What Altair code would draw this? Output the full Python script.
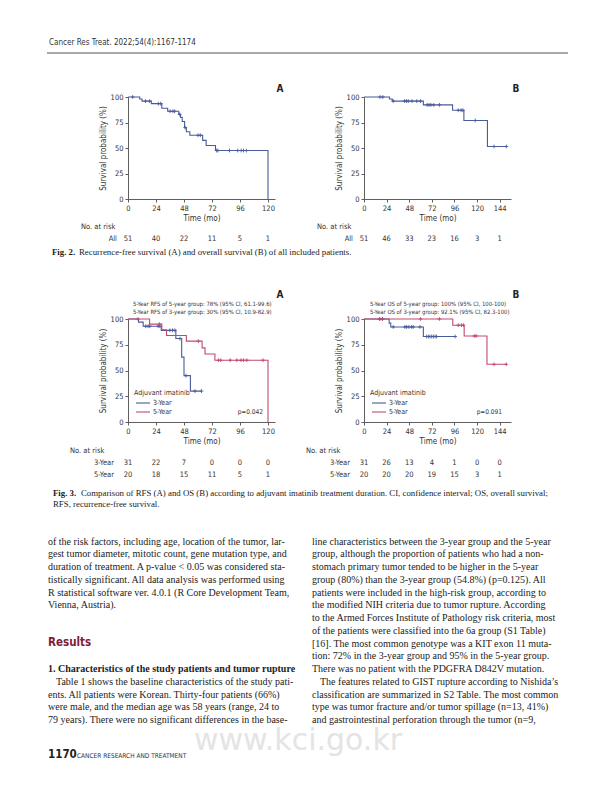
import altair as alt
import pandas as pd

# ------------------------------------------------------------------ data
GROUPS = ["All", "3-Year", "5-Year"]
COLORS = ["#4a5b9b", "#4a5b9b", "#c24a6c"]

# Fig 2A  recurrence-free survival, all patients
f2a_t = [0, 10, 12, 20, 29, 34, 43.5, 45, 46.5, 48.5, 50, 53, 64, 67, 75, 120]
f2a_s = [100, 98, 96, 93.5, 89, 86, 83, 80, 76, 70, 66, 62.5, 57.5, 52.5, 47.5, 0]
f2a_c = [4, 15, 18.5, 26, 28, 36, 38.5, 40, 44.3, 49, 60, 62, 76, 77, 87, 94, 97, 99, 101.5]

# Fig 2B  overall survival, all patients
f2b_t = [0, 27, 30, 63, 94, 106, 131, 151]
f2b_s = [100, 98, 96, 92.3, 87, 77, 51.5, 51.5]
f2b_c = [17, 20, 31, 43, 45, 47, 51, 56, 60, 67, 69, 71, 74, 80, 100, 103, 105, 118, 138, 151]

# Fig 3A  RFS by duration
f3a_3_t = [0, 9, 13, 28.5, 41, 46, 48, 53.5, 63]
f3a_3_s = [100, 97, 93, 89, 81, 63, 45, 30, 30]
f3a_3_c = [15.2, 17.2, 18.7, 25.8, 27.3, 35.9, 38.2, 40.2, 44.5, 49.7, 57.4, 63]
f3a_5_t = [0, 18.5, 29, 33, 50, 63.5, 66, 74.5, 120]
f3a_5_s = [100, 95, 89.5, 84, 78.5, 72, 66, 60, 0]
f3a_5_c = [8.6, 27, 60.3, 77.5, 79.5, 87.6, 93.3, 96.8, 99, 101.9, 115.7]

# Fig 3B  OS by duration
f3b_3_t = [0, 26.7, 28.4, 63, 96.7]
f3b_3_s = [100, 96, 92.3, 83, 83]
f3b_3_c = [16.7, 19.6, 31, 43.4, 45.2, 47.6, 50.5, 52.3, 59.4, 66.5, 68.3, 70, 71.8, 73.6, 75.4, 77, 96.7]
f3b_5_t = [0, 94.2, 106.3, 130.5, 151]
f3b_5_s = [100, 94, 83.5, 56, 56]
f3b_5_c = [16.7, 19.6, 60, 80, 100, 103.5, 105.6, 117, 119, 138, 151]

# numbers at risk
ticks_a = [0, 24, 48, 72, 96, 120]
ticks_b = [0, 24, 48, 72, 96, 120, 144]
risk_2a_all = [51, 40, 22, 11, 5, 1]
risk_2b_all = [51, 46, 33, 23, 16, 3, 1]
risk_3a_3 = [31, 22, 7, 0, 0, 0]
risk_3a_5 = [20, 18, 15, 11, 5, 1]
risk_3b_3 = [31, 26, 13, 4, 1, 0, 0]
risk_3b_5 = [20, 20, 20, 19, 15, 3, 1]

notes_3a = ["5-Year RFS of 5-year group: 78% (95% CI, 61.1-99.6)",
            "5-Year RFS of 3-year group: 30% (95% CI, 10.9-82.9)"]
notes_3b = ["5-Year OS of 5-year group: 100% (95% CI, 100-100)",
            "5-Year OS of 3-year group: 92.1% (95% CI, 82.3-100)"]

header_text = "Cancer Res Treat. 2022;54(4):1167-1174"
cap2 = ["Fig. 2.", "Recurrence-free survival (A) and overall survival (B) of all included patients."]
cap3 = ["Fig. 3.",
        "Comparison of RFS (A) and OS (B) according to adjuvant imatinib treatment duration. CI, confidence interval; OS, overall survival;",
        "RFS, recurrence-free survival."]

left_a = [
    "of the risk factors, including age, location of the tumor, lar-",
    "gest tumor diameter, mitotic count, gene mutation type, and",
    "duration of treatment. A p-value < 0.05 was considered sta-",
    "tistically significant. All data analysis was performed using",
    "R statistical software ver. 4.0.1 (R Core Development Team,",
    "Vienna, Austria).",
]
results_head = "Results"
sub_head = "1. Characteristics of the study patients and tumor rupture"
left_b = [
    "Table 1 shows the baseline characteristics of the study pati-",
    "ents. All patients were Korean. Thirty-four patients (66%)",
    "were male, and the median age was 58 years (range, 24 to",
    "79 years). There were no significant differences in the base-",
]
right_col = [
    "line characteristics between the 3-year group and the 5-year",
    "group, although the proportion of patients who had a non-",
    "stomach primary tumor tended to be higher in the 5-year",
    "group (80%) than the 3-year group (54.8%) (p=0.125). All",
    "patients were included in the high-risk group, according to",
    "the modified NIH criteria due to tumor rupture. According",
    "to the Armed Forces Institute of Pathology risk criteria, most",
    "of the patients were classified into the 6a group (S1 Table)",
    "[16]. The most common genotype was a KIT exon 11 muta-",
    "tion: 72% in the 3-year group and 95% in the 5-year group.",
    "There was no patient with the PDGFRA D842V mutation.",
    "The features related to GIST rupture according to Nishida\u2019s",
    "classification are summarized in S2 Table. The most common",
    "type was tumor fracture and/or tumor spillage (n=13, 41%)",
    "and gastrointestinal perforation through the tumor (n=9,",
]
footer_num = "1170"
footer_txt = "CANCER RESEARCH AND TREATMENT"
watermark = "www.kci.go.kr"

# ------------------------------------------------------------------ style
FIG_FONT = "Liberation Sans Narrow, Arial Narrow, DejaVu Sans Condensed, Roboto Condensed, Roboto, sans-serif"
SERIF = "Liberation Serif, DejaVu Serif, serif"
TXT = "#333333"
INK = "#222222"
AXC = "#4d4d4d"
CROSS = "M-1,0L1,0M0,-1L0,1"
ONE = pd.DataFrame({"k": [0]})

AX = dict(domainColor=AXC, tickColor=AXC, labelColor=TXT, titleColor=TXT,
          labelFont=FIG_FONT, titleFont=FIG_FONT, labelFontSize=7.5, titleFontSize=8,
          titleFontWeight="normal", tickSize=3, grid=False, domainWidth=0.9,
          tickWidth=0.9, labelPadding=2)


def step_value(ts, ss, t):
    v = ss[0]
    for ti, si in zip(ts, ss):
        if ti <= t:
            v = si
    return v


def curve_df(g, ts, ss):
    return pd.DataFrame({"t": ts, "s": ss, "g": g})


def cens_df(g, ts, ss, cs):
    return pd.DataFrame({"t": cs, "s": [step_value(ts, ss, c) for c in cs], "g": g})


def txt(text, x, y, size=7.5, align="left", weight="normal", font=FIG_FONT, color=TXT, baseline="middle"):
    return alt.Chart(ONE).mark_text(text=text, align=align, baseline=baseline, fontSize=size,
                                    fontWeight=weight, font=font, color=color).encode(
        x=alt.value(x), y=alt.value(y))


def panel(curves, cens, risks, xmax, ticks, letter, letter_y, h,
          rowlabels, row_ys, noat_x, noat_y, lab_x, extra=None):
    xs = alt.Scale(domain=[0, xmax], nice=False)
    ys = alt.Scale(domain=[0, 100], nice=False)
    col = alt.Color("g:N", scale=alt.Scale(domain=GROUPS, range=COLORS), legend=None)
    xax = alt.Axis(values=ticks, title="Time (mo)", labelFlush=False, titlePadding=3, **AX)
    yax = alt.Axis(values=[0, 25, 50, 75, 100], title="Survival probability (%)", titlePadding=3, **AX)
    X = alt.X("t:Q", scale=xs, axis=xax)
    Y = alt.Y("s:Q", scale=ys, axis=yax)
    layers = [
        alt.Chart(curves).mark_line(interpolate="step-after", strokeWidth=1.1).encode(x=X, y=Y, color=col),
        alt.Chart(cens).mark_point(shape=CROSS, size=14, filled=False, strokeWidth=0.9, opacity=1).encode(
            x=X, y=Y, color=col),
    ]
    for df, lbl, ry in zip(risks, rowlabels, row_ys):
        layers.append(alt.Chart(df).mark_text(fontSize=7.5, font=FIG_FONT, color=TXT, baseline="middle").encode(
            x=X, y=alt.value(ry), text="n:Q"))
        layers.append(txt(lbl, lab_x, ry, align="right"))
    layers.append(txt("No. at risk", noat_x, noat_y))
    layers.append(txt(letter, 152, letter_y, size=10, weight="bold", align="center", color=INK))
    if extra:
        layers += extra
    return alt.layer(*layers).properties(width=147, height=h)


def risk_df(ticks, ns):
    return pd.DataFrame({"t": ticks, "n": ns})


def spacer(w, h):
    return alt.Chart(ONE).mark_text(text="").encode(x=alt.value(0), y=alt.value(0)).properties(width=w, height=h)


# ------------------------------------------------------------------ figure 2
p2a = panel(curve_df("All", f2a_t, f2a_s), cens_df("All", f2a_t, f2a_s, f2a_c),
            [risk_df(ticks_a, risk_2a_all)], 126, ticks_a, "A", -8, 102,
            ["All"], [142], -47, 130, -11)
p2b = panel(curve_df("All", f2b_t, f2b_s), cens_df("All", f2b_t, f2b_s, f2b_c),
            [risk_df(ticks_b, risk_2b_all)], 156, ticks_b, "B", -8, 102,
            ["All"], [142], -47, 130, -11)


# ------------------------------------------------------------------ figure 3
def legend_layers(notes, p, px, nx):
    out = [txt(notes[0], nx, -15, size=5.9), txt(notes[1], nx, -7, size=5.9),
           txt("Adjuvant imatinib", 6, 74, size=7)]
    for g, ly in zip(["3-Year", "5-Year"], [84, 93]):
        out.append(alt.Chart(ONE).mark_rule(strokeWidth=1.1, color=COLORS[GROUPS.index(g)]).encode(
            x=alt.value(8), x2=alt.value(22), y=alt.value(ly)))
        out.append(txt(g, 25, ly, size=7))
    out.append(txt(p, px, 93, size=6.5, align="right"))
    return out


c3a = pd.concat([curve_df("3-Year", f3a_3_t, f3a_3_s), curve_df("5-Year", f3a_5_t, f3a_5_s)])
k3a = pd.concat([cens_df("3-Year", f3a_3_t, f3a_3_s, f3a_3_c), cens_df("5-Year", f3a_5_t, f3a_5_s, f3a_5_c)])
c3b = pd.concat([curve_df("3-Year", f3b_3_t, f3b_3_s), curve_df("5-Year", f3b_5_t, f3b_5_s)])
k3b = pd.concat([cens_df("3-Year", f3b_3_t, f3b_3_s, f3b_3_c), cens_df("5-Year", f3b_5_t, f3b_5_s, f3b_5_c)])

p3a = panel(c3a, k3a, [risk_df(ticks_a, risk_3a_3), risk_df(ticks_a, risk_3a_5)], 126, ticks_a, "A", -24, 103,
            ["3-Year", "5-Year"], [144, 156], -58, 132, -14,
            extra=legend_layers(notes_3a, "p=0.042", 135, 5))
p3b = panel(c3b, k3b, [risk_df(ticks_b, risk_3b_3), risk_df(ticks_b, risk_3b_5)], 156, ticks_b, "B", -24, 103,
            ["3-Year", "5-Year"], [144, 156], -58, 132, -14,
            extra=legend_layers(notes_3b, "p=0.091", 138, 6))

# ------------------------------------------------------------------ text cells
W0, W1, W2, W3 = 120, 147, 89, 147
H0, H1, H2, H3, H4 = 83, 102, 120, 103, 370

cell0 = alt.layer(
    txt(header_text, 41, 29, size=8, font=FIG_FONT, color=TXT),
    alt.Chart(ONE).mark_rule(color="#555555", strokeWidth=1).encode(
        x=alt.value(39), x2=alt.value(560), y=alt.value(39)),
).properties(width=W0, height=H0)

cell2 = alt.layer(
    txt(cap2[0], 44, 53, size=8.8, weight="bold", font=SERIF, color=INK),
    txt(cap2[1], 71, 53, size=8.8, font=SERIF, color=INK),
).properties(width=W0, height=H2)

BODY = 10
LH = 12.75
body_layers = [
    txt(watermark, 290, 328, size=30, font="DejaVu Sans", color="#e4e4e4",
        align="center", baseline="alphabetic"),
    txt(cap3[0], 45, 71, size=8.8, weight="bold", font=SERIF, color=INK),
    txt(cap3[1], 73, 71, size=8.8, font=SERIF, color=INK),
    txt(cap3[2], 45, 82, size=8.8, font=SERIF, color=INK),
]
for i, line in enumerate(left_a):
    body_layers.append(txt(line, 40, 119.5 + LH * i, size=BODY, font=SERIF, color=INK))
body_layers.append(txt(results_head, 40, 221, size=11.5, weight="bold", font=FIG_FONT, color="#7f1d3a"))
body_layers.append(txt(sub_head, 40, 247, size=BODY, weight="bold", font=SERIF, color=INK))
for i, line in enumerate(left_b):
    body_layers.append(txt(line, 48 if i == 0 else 40, 247 + LH * (i + 1), size=BODY, font=SERIF, color=INK))
for i, line in enumerate(right_col):
    body_layers.append(txt(line, 312 if i == 11 else 304, 119.5 + LH * i, size=BODY, font=SERIF, color=INK))
body_layers.append(txt(footer_num, 40, 333, size=11.5, weight="bold", font=FIG_FONT, color=INK))
body_layers.append(txt(footer_txt, 69, 334, size=6.5, font=FIG_FONT, color=TXT))
cell4 = alt.layer(*body_layers).properties(width=W0, height=H4)

cells = [
    cell0, spacer(W1, H0), spacer(W2, H0), spacer(W3, H0),
    spacer(W0, H1), p2a, spacer(W2, H1), p2b,
    cell2, spacer(W1, H2), spacer(W2, H2), spacer(W3, H2),
    spacer(W0, H3), p3a, spacer(W2, H3), p3b,
    cell4, spacer(W1, H4), spacer(W2, H4), spacer(W3, H4),
]

chart = alt.concat(*cells, columns=4, spacing=0, bounds="flush").properties(
    padding=0
).configure_view(strokeWidth=0)

chart.save("out.html", embed_options={"renderer": "svg", "actions": False})
